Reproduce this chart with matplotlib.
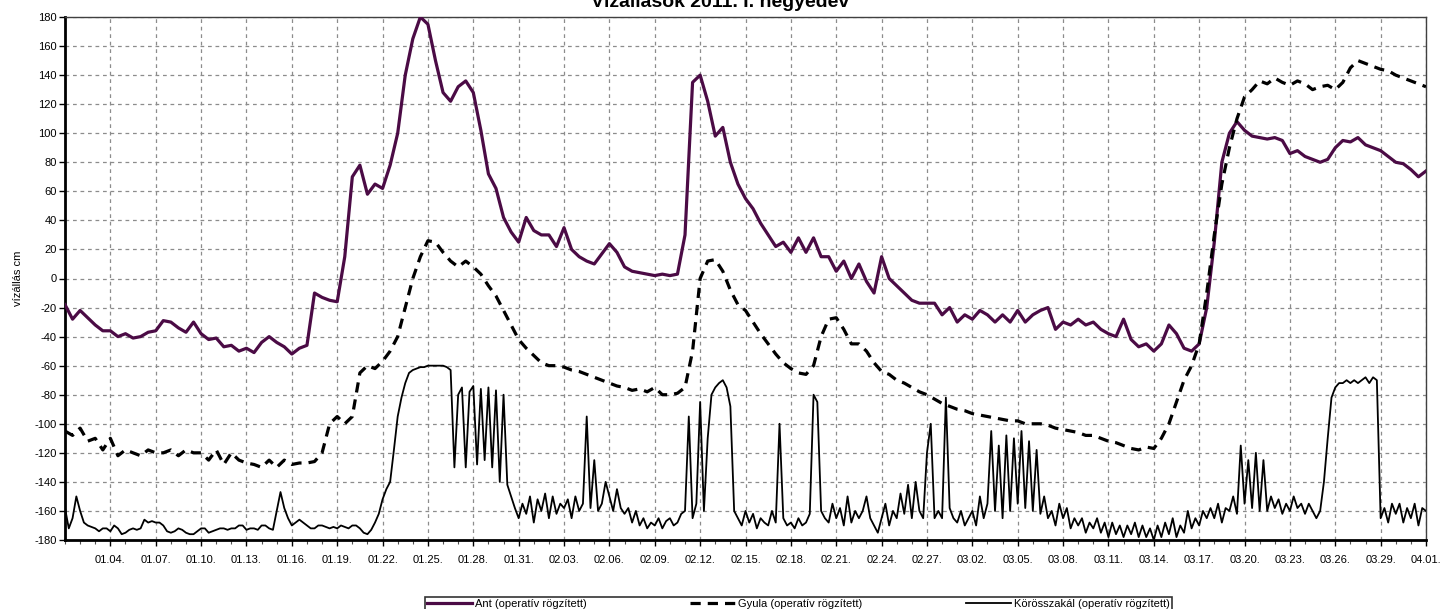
import numpy as np
import pandas as pd
import matplotlib
matplotlib.use("Agg")
import matplotlib.pyplot as plt
import matplotlib.dates as mdates
from matplotlib.ticker import FixedLocator, MultipleLocator

plt.rcParams['font.family'] = ['Liberation Sans', 'DejaVu Sans']
plt.rcParams['axes.unicode_minus'] = False

title = "Vízállások 2011. I. negyedév"
y_label = "vízállás cm"
labels = ["Ant (operatív rögzített)", "Gyula (operatív rögzített)",
          "Körösszakál (operatív rögzített)"]

# Ant and Gyula: one reading every 12 hours, 01.01. 00:00 .. 04.01. 00:00
half_days = pd.date_range("2011-01-01", "2011-04-01", freq="12h")
ant = [
    -18, -28, -22, -27, -32, -36, -36, -40, -38, -41,
    -40, -37, -36, -29, -30, -34, -37, -30, -38, -42,
    -41, -47, -46, -50, -48, -51, -44, -40, -44, -47,
    -52, -48, -46, -10, -13, -15, -16, 15, 70, 78,
    58, 65, 62, 78, 100, 140, 165, 180, 175, 150,
    128, 122, 132, 136, 128, 102, 72, 62, 42, 32,
    25, 42, 33, 30, 30, 22, 35, 20, 15, 12,
    10, 17, 24, 18, 8, 5, 4, 3, 2, 3,
    2, 3, 30, 135, 140, 122, 98, 104, 80, 65,
    55, 48, 38, 30, 22, 25, 18, 28, 18, 28,
    15, 15, 5, 12, 0, 10, -2, -10, 15, 0,
    -5, -10, -15, -17, -17, -17, -25, -20, -30, -25,
    -28, -22, -25, -30, -25, -30, -22, -30, -25, -22,
    -20, -35, -30, -32, -28, -32, -30, -35, -38, -40,
    -28, -42, -47, -45, -50, -45, -32, -38, -48, -50,
    -45, -20, 25, 80, 100, 108, 102, 98, 97, 96,
    97, 95, 86, 88, 84, 82, 80, 82, 90, 95,
    94, 97, 92, 90, 88, 84, 80, 79, 75, 70,
    74,
]
gyula = [
    -105, -108, -103, -112, -110, -118, -110, -122, -118, -120,
    -122, -118, -120, -120, -118, -122, -118, -120, -120, -125,
    -118, -128, -120, -125, -127, -128, -130, -125, -130, -125,
    -128, -127, -127, -126, -120, -100, -95, -100, -95, -65,
    -60, -62, -57, -50, -40, -20, 0, 15, 26, 25,
    18, 12, 8, 12, 8, 3, -5, -12, -22, -32,
    -42, -48, -53, -58, -60, -60, -61, -63, -64, -66,
    -68, -70, -72, -74, -75, -77, -76, -78, -75, -80,
    -80, -79, -75, -50, 0, 12, 13, 5, -8, -18,
    -22, -30, -38, -45, -52, -58, -62, -65, -66, -60,
    -40, -28, -27, -35, -45, -45, -50, -58, -64, -66,
    -70, -72, -75, -78, -80, -83, -86, -88, -90, -91,
    -93, -94, -95, -96, -97, -98, -98, -100, -100, -100,
    -101, -103, -104, -105, -106, -108, -108, -110, -112, -113,
    -115, -117, -118, -116, -117, -110, -100, -85, -70, -60,
    -45, -10, 30, 65, 90, 110, 125, 130, 136, 134,
    138, 135, 133, 136, 134, 130, 132, 133, 130, 135,
    145, 150, 148, 146, 144, 143, 140, 138, 136, 134,
    132,
]

# Körösszakál: one reading every 6 hours
quarter_days = pd.date_range("2011-01-01", "2011-04-01", freq="6h")
korosszakal = [
    -158, -172, -165, -150, -160, -168, -170, -171, -172, -174, -172, -172,
    -174, -170, -172, -176, -175, -173, -172, -173, -172, -166, -168, -167,
    -168, -168, -170, -174, -175, -174, -172, -173, -175, -176, -176, -174,
    -172, -172, -175, -174, -173, -172, -172, -173, -172, -172, -170, -170,
    -173, -172, -172, -173, -170, -170, -172, -173, -160, -147, -158, -165,
    -170, -168, -166, -168, -170, -172, -172, -170, -170, -171, -172, -171,
    -172, -170, -171, -172, -170, -170, -172, -175, -176, -173, -168, -162,
    -152, -145, -140, -118, -95, -82, -72, -65, -63, -62, -61, -61,
    -60, -60, -60, -60, -60, -61, -63, -130, -80, -75, -130, -78,
    -74, -128, -76, -125, -75, -130, -77, -140, -80, -142, -150, -158,
    -165, -155, -162, -150, -168, -152, -160, -148, -165, -150, -162, -155,
    -158, -152, -165, -150, -160, -155, -95, -158, -125, -160, -155, -140,
    -150, -160, -145, -158, -162, -158, -168, -160, -170, -165, -172, -168,
    -170, -165, -172, -167, -165, -170, -168, -162, -160, -95, -165, -155,
    -85, -160, -110, -80, -75, -72, -70, -75, -88, -160, -165, -170,
    -160, -168, -162, -172, -165, -168, -170, -160, -168, -100, -165, -170,
    -168, -172, -165, -170, -168, -162, -80, -85, -160, -165, -168, -155,
    -165, -158, -170, -150, -168, -160, -165, -160, -150, -165, -170, -175,
    -165, -155, -170, -160, -165, -148, -162, -142, -165, -140, -160, -165,
    -120, -100, -165, -160, -165, -82, -158, -165, -168, -160, -170, -165,
    -160, -170, -150, -165, -155, -105, -160, -115, -165, -108, -160, -110,
    -155, -105, -158, -112, -160, -118, -162, -150, -165, -160, -170, -155,
    -165, -158, -172, -165, -170, -165, -175, -168, -172, -165, -175, -168,
    -178, -168, -176, -170, -178, -170, -176, -168, -178, -170, -178, -172,
    -180, -170, -178, -168, -176, -165, -178, -170, -175, -160, -172, -165,
    -170, -160, -165, -158, -165, -155, -168, -158, -160, -150, -162, -115,
    -155, -125, -158, -120, -160, -125, -160, -150, -158, -152, -162, -155,
    -160, -150, -158, -155, -162, -155, -160, -165, -160, -140, -110, -82,
    -75, -72, -72, -70, -72, -70, -72, -70, -68, -72, -68, -70,
    -165, -158, -168, -155, -162, -155, -168, -158, -165, -155, -170, -158,
    -160,
]

tick_dates = pd.date_range("2011-01-04", "2011-04-01", freq="3D")

fig = plt.figure(figsize=(14.4, 6.09), dpi=100)
ax = fig.add_axes([65 / 1440, 69 / 609, 1361 / 1440, 523 / 609])

ax.plot(half_days, ant, color="#4b0b45", lw=2.3, zorder=3)
ax.plot(half_days, gyula, color="black", lw=2.3, dashes=(3.2, 2.2), zorder=3)
ax.plot(quarter_days, korosszakal, color="black", lw=1.3, zorder=3)

ax.set_xlim(half_days[0], half_days[-1])
ax.set_ylim(-180, 180)
ax.yaxis.set_major_locator(MultipleLocator(20))
ax.xaxis.set_major_locator(FixedLocator(mdates.date2num(tick_dates)))
ax.xaxis.set_minor_locator(mdates.DayLocator())
ax.xaxis.set_major_formatter(mdates.DateFormatter("%m.%d."))

ax.grid(True, which="major", color="#8c8c8c", lw=0.9, ls=(0, (3, 3)))
ax.tick_params(axis="both", which="major", labelsize=8, direction="out",
               length=4, width=1, color="black")
ax.tick_params(axis="x", which="minor", direction="out", length=3,
               width=0.8, color="#505050")
ax.tick_params(axis="x", which="major", pad=7)
ax.tick_params(axis="y", which="major", pad=2)
ax.set_ylabel(y_label, fontsize=8, labelpad=8)

for side in ("left", "bottom"):
    ax.spines[side].set_linewidth(2)
    ax.spines[side].set_color("black")
for side in ("top", "right"):
    ax.spines[side].set_linewidth(1)
    ax.spines[side].set_color("#404040")

# the title sits partly above the top edge, as in the original export
fig.text(0.5, 1 - 7 / 609, title, ha="center", va="baseline",
         fontsize=14, fontweight="bold")

leg = fig.legend(ax.get_lines(), labels, loc="upper left", ncol=3,
                 bbox_to_anchor=(425 / 1440, -0.05, 747 / 1440, 0.05 + 12 / 609),
                 mode="expand", borderaxespad=0, fontsize=8, frameon=True,
                 fancybox=False, handlelength=4, handletextpad=0.3,
                 borderpad=0.2)
leg.get_frame().set_edgecolor("black")
leg.get_frame().set_linewidth(1.2)

fig.savefig("out.png", dpi=100)
